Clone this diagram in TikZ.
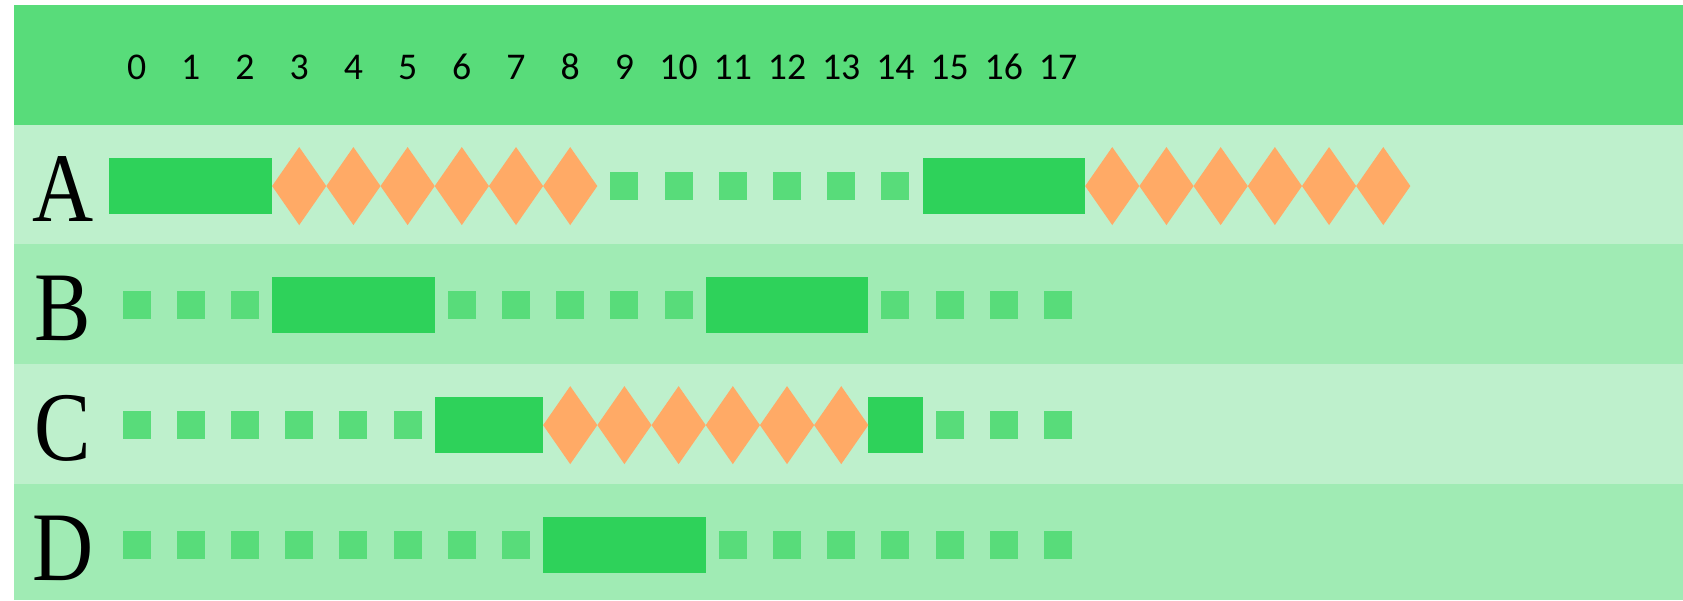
\documentclass[tikz,border=0pt]{standalone}
\usepackage{fontspec}
\setmainfont{Liberation Serif}
\newfontfamily\numfont{Carlito}
\definecolor{headgreen}{HTML}{58DC7A}
\definecolor{rowlight}{HTML}{BEF0CC}
\definecolor{rowmid}{HTML}{A0EBB4}
\definecolor{bargreen}{HTML}{2ED25A}
\definecolor{slotgreen}{HTML}{58DC7A}
\definecolor{spikeorange}{HTML}{FFAA66}

\begin{document}
\begin{tikzpicture}[x=1.084cm,y=-0.02cm,
  rowlabel/.style={font=\fontsize{56}{60}\selectfont,inner sep=0pt},
  colnum/.style={font=\numfont\fontsize{21.5}{24}\selectfont,inner sep=0pt},
  slot/.style={fill=slotgreen},
  busy/.style={fill=bargreen},
  spike/.style={fill=spikeorange}]
\useasboundingbox (-2.02,0) rectangle (29.03,600);
% header with slot numbers
\fill[headgreen] (-1.762,5) rectangle (29.03,125);
\foreach \c in {0,...,17}
  \node[colnum] (col\c) at (\c+0.5,67) {\c};
% row bands
\fill[rowlight] (-1.762,125) rectangle (29.03,244);
\fill[rowmid] (-1.762,244) rectangle (29.03,364);
\fill[rowlight] (-1.762,364) rectangle (29.03,484);
\fill[rowmid] (-1.762,484) rectangle (29.03,600);
\foreach \l/\y in {A/189,B/308,C/428,D/548}
  \node[rowlabel] (row\l) at (-0.86,\y) {\scalebox{0.86}[1]{\l}};
% row A
\fill[busy] (0,158) rectangle (3,214);
\fill[busy] (15,158) rectangle (18,214);
\foreach \c in {9,...,14}
  \fill[slot] (\c+0.242,172) rectangle (\c+0.758,200);
\foreach \c in {3,...,8}
  \fill[spike] (\c,186) -- (\c+0.5,147) -- (\c+1,186) -- (\c+0.5,225) -- cycle;
\foreach \c in {18,...,23}
  \fill[spike] (\c,186) -- (\c+0.5,147) -- (\c+1,186) -- (\c+0.5,225) -- cycle;
% row B
\fill[busy] (3,277) rectangle (6,333);
\fill[busy] (11,277) rectangle (14,333);
\foreach \c in {0,1,2,6,7,8,9,10,14,15,16,17}
  \fill[slot] (\c+0.242,291) rectangle (\c+0.758,319);
% row C
\fill[busy] (6,397) rectangle (8,453);
\fill[busy] (14,397) rectangle (15,453);
\foreach \c in {0,...,5,15,16,17}
  \fill[slot] (\c+0.242,411) rectangle (\c+0.758,439);
\foreach \c in {8,...,13}
  \fill[spike] (\c,425) -- (\c+0.5,386) -- (\c+1,425) -- (\c+0.5,464) -- cycle;
% row D
\fill[busy] (8,517) rectangle (11,573);
\foreach \c in {0,...,7,11,12,13,14,15,16,17}
  \fill[slot] (\c+0.242,531) rectangle (\c+0.758,559);
\end{tikzpicture}
\end{document}
